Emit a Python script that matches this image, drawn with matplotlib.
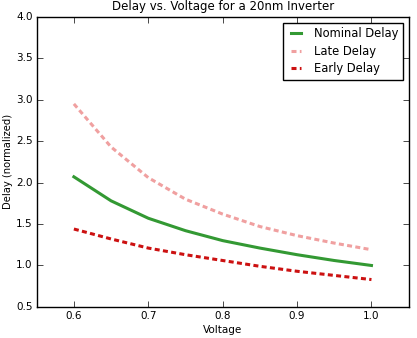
import numpy as np
import matplotlib
matplotlib.use("Agg")
import matplotlib.pyplot as plt

voltage = [0.6, 0.65, 0.7, 0.75, 0.8, 0.85, 0.9, 0.95, 1.0]
nominal_delay = [2.07, 1.78, 1.57, 1.42, 1.30, 1.21, 1.13, 1.06, 1.00]
late_delay = [2.95, 2.43, 2.06, 1.80, 1.62, 1.47, 1.36, 1.27, 1.19]
early_delay = [1.44, 1.32, 1.21, 1.13, 1.06, 0.99, 0.93, 0.88, 0.83]

plt.style.use('classic')
fig, ax = plt.subplots(figsize=(4.17, 3.38), dpi=100)
fig.patch.set_facecolor('white')

ax.plot(voltage, nominal_delay, color='#339933', lw=2.2, label='Nominal Delay')
ax.plot(voltage, late_delay, '--', dashes=(3.6, 2.4), color='#f0a0a0', lw=2.2, label='Late Delay')
ax.plot(voltage, early_delay, '--', dashes=(3.6, 2.4), color='#cc1111', lw=2.2, label='Early Delay')

ax.set_xlim(0.55, 1.05)
ax.set_ylim(0.5, 4.0)
ax.set_xticks([0.6, 0.7, 0.8, 0.9, 1.0])
ax.tick_params(labelsize=7.5, pad=3)
ax.set_xlabel('Voltage', fontsize=7.5, labelpad=3)
ax.set_ylabel('Delay (normalized)', fontsize=7.2, labelpad=2)
ax.set_title('Delay vs. Voltage for a 20nm Inverter', fontsize=8.5)
ax.legend(loc='upper right', fontsize=8.3, handlelength=1.5, labelspacing=0.4)

fig.subplots_adjust(left=0.088, right=0.98, top=0.95, bottom=0.092)
fig.savefig('out.png', dpi=100)
